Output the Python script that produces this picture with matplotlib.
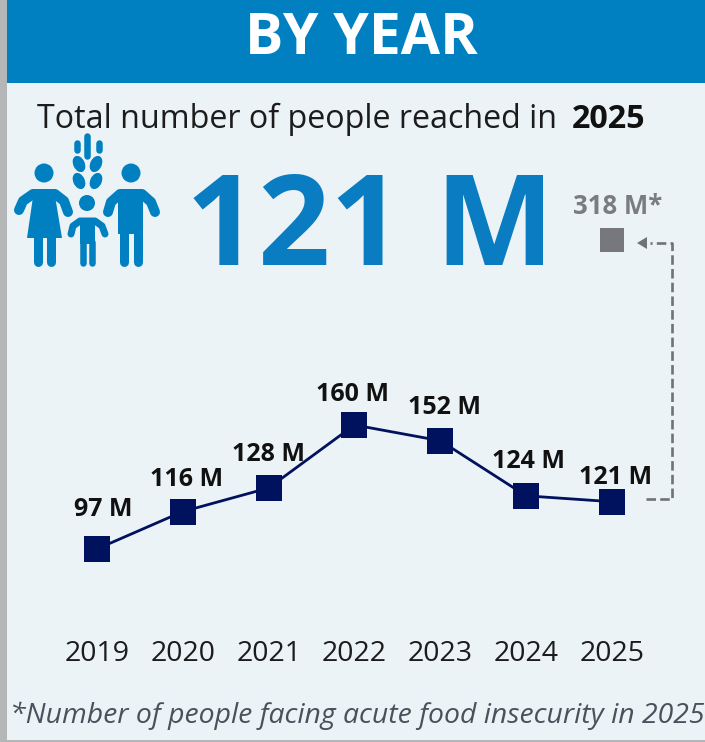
import numpy as np
import matplotlib
matplotlib.use("Agg")
import matplotlib.pyplot as plt
from matplotlib.patches import Rectangle, Circle, Ellipse, Polygon

years = [2019, 2020, 2021, 2022, 2023, 2024, 2025]
reached = [97, 116, 128, 160, 152, 124, 121]
labels = ["97 M", "116 M", "128 M", "160 M", "152 M", "124 M", "121 M"]
insecure_year = 2025
insecure = 318

# label offsets from each marker, in pixels
label_dx = [6, 4, 0, -2, 4, 2, 4]
label_dy = [39, 32, 33, 30, 33, 34, 24]

BLUE = "#0080C0"
BG = "#ECF3F6"
NAVY = "#00115E"
GREY = "#76787B"
W, H = 705, 742

plt.rcParams["font.family"] = ["Open Sans", "DejaVu Sans"]

fig = plt.figure(figsize=(W / 100, H / 100), dpi=100, facecolor="white")

# page layer, in pixels from the top left
bg = fig.add_axes([0, 0, 1, 1])
bg.set_xlim(0, W)
bg.set_ylim(H, 0)
bg.axis("off")
bg.add_patch(Rectangle((0, 0), W, H, color="#B4B6B7", lw=0))
bg.add_patch(Rectangle((7, 0), W - 7, H - 2, color=BG, lw=0))
bg.add_patch(Rectangle((7, 0), W - 7, 83, color=BLUE, lw=0))

bg.text(361, 39, "BY YEAR", color="white", fontsize=41, fontweight="bold", ha="center", va="center")
bg.text(37, 119, "Total number of people reached in ", color="#1c1c1c", fontsize=23.2, va="center")
bg.text(645, 119, "2025", color="#111111", fontsize=23.2, fontweight="bold", ha="right", va="center")
bg.text(370, 232, "121 M", color="#0A7CC1", fontsize=91, fontweight="bold", ha="center", va="center")
bg.text(357, 716, "*Number of people facing acute food insecurity in 2025", color="#47525C",
        fontsize=20.4, style="italic", ha="center", va="center")


def limb(xs, ys, width):
    bg.plot(xs, ys, color=BLUE, lw=width * 0.72, solid_capstyle="round", solid_joinstyle="round")


# family with wheat icon
for cx, cy, r in [(44, 173, 9.5), (131, 173, 9.5), (87, 203, 8)]:
    bg.add_patch(Circle((cx, cy), r, color=BLUE, lw=0))
limb([19, 23, 33, 55, 64, 68], [210, 201, 194, 194, 201, 212], 10)
bg.add_patch(Polygon([(34, 190), (54, 190), (62, 238), (27, 238)], color=BLUE, lw=0))
limb([38, 38], [236, 262], 9)
limb([50.5, 50.5], [236, 262], 9)
limb([108, 111, 120, 142, 151, 155], [212, 202, 194, 194, 202, 212], 10)
bg.add_patch(Rectangle((118, 190), 25, 44, color=BLUE, lw=0))
limb([124, 124], [232, 262], 9)
limb([137.5, 137.5], [232, 262], 9)
limb([71, 73, 80, 95, 102, 105], [234, 226, 221, 221, 226, 234], 7)
bg.add_patch(Rectangle((80, 218), 15, 26, color=BLUE, lw=0))
limb([83, 83], [242, 263], 6.5)
limb([92, 92], [242, 263], 6.5)
limb([87, 87], [136, 156], 6.5)
limb([76.5, 76.5], [143, 150], 6.5)
limb([98.5, 98.5], [143, 150], 6.5)
for ex, ey, ang in [(79, 164, -25), (96, 164, 25), (79, 181, -25), (96, 181, 25)]:
    bg.add_patch(Ellipse((ex, ey), 11.5, 17, angle=ang, color=BLUE, lw=0))

# dashed link from the 2025 point up to the food insecurity square
bg.plot([646, 672, 672, 650], [499, 499, 243, 243], color="#6F7375", lw=1.9,
        ls=(0, (3.6, 1.6)), solid_joinstyle="miter")
bg.add_patch(Polygon([(637, 243), (647, 237), (647, 249)], color="#6F7375", lw=0))


def squeeze(v):
    return np.interp(v, [-50, 170, 318, 1000], [-50, 170, 254, 936])


def unsqueeze(v):
    return np.interp(v, [-50, 170, 254, 936], [-50, 170, 318, 1000])


# chart layer, value axis is compressed above 170 M
ax = fig.add_axes([0, (H - 630) / H, 1, 630 / H])
ax.patch.set_alpha(0)
ax.set_yscale("function", functions=(squeeze, unsqueeze))
ax.set_xlim(2019 - 97 / 85.83, 2019 + (W - 97) / 85.83)
ax.set_ylim(55.8, 440)
for s in ax.spines.values():
    s.set_visible(False)
ax.set_yticks([])
ax.minorticks_off()
ax.set_xticks(years)
ax.set_xticklabels(years, fontsize=20.5, color="#1c1c1c")
ax.tick_params(axis="x", length=0, pad=7)

ax.plot(years, reached, color=NAVY, lw=2, marker="s", ms=18.5, mec=NAVY, mew=0)
ax.plot([insecure_year], [insecure], ls="none", marker="s", ms=17.5, color=GREY, mew=0)

for i, lab in enumerate(labels):
    ax.annotate(lab, (years[i], reached[i]), xytext=(label_dx[i] * 0.72, label_dy[i] * 0.72),
                textcoords="offset points", ha="center", va="center",
                fontsize=18, fontweight="bold", color="#111111")
ax.annotate(f"{insecure} M*", (insecure_year, insecure), xytext=(6 * 0.72, 34 * 0.72),
            textcoords="offset points", ha="center", va="center",
            fontsize=18.5, fontweight="bold", color="#7A7D80")

fig.savefig("out.png", dpi=100)
